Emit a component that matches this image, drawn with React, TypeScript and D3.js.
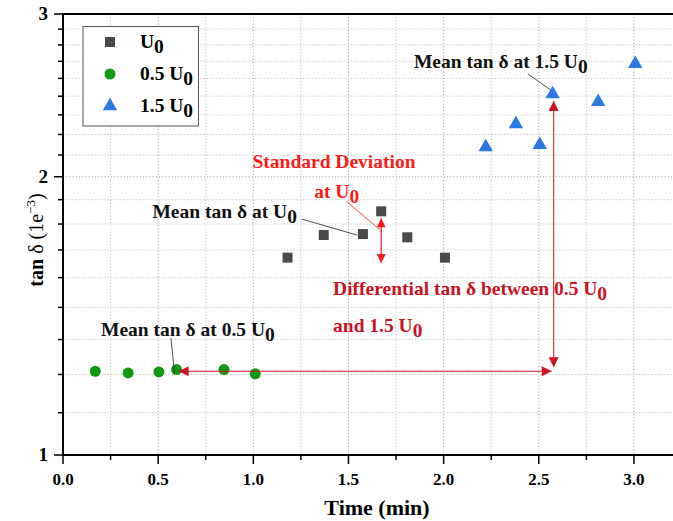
import React from "react";
import * as d3 from "d3";

// ---- data ----
const u0Time = [1.18, 1.37, 1.576, 1.672, 1.809, 2.007];
const u0Tan = [1.635, 1.73, 1.734, 1.835, 1.72, 1.635];
const halfTime = [0.17, 0.342, 0.504, 0.597, 0.846, 1.01];
const halfTan = [1.232, 1.227, 1.23, 1.237, 1.237, 1.224];
const oneHalfTime = [2.221, 2.38, 2.505, 2.573, 2.812, 3.007];
const oneHalfTan = [2.154, 2.281, 2.165, 2.458, 2.41, 2.649];
const legendLabels = ["U", "0.5 U", "1.5 U"];
const xTicks = [0, 0.5, 1, 1.5, 2, 2.5, 3];
const xTickLabels = ["0.0", "0.5", "1.0", "1.5", "2.0", "2.5", "3.0"];
const yTicks = [1, 2, 3];
const yTickLabels = ["1", "2", "3"];

const W = 673;
const H = 521;
const FONT = "'Liberation Serif', 'Times New Roman', serif";

const SQ = "#4a4a4a";
const GR = "#119a11";
const BL = "#2a78e2";
const RED_DARK = "#cc1122";
const RED = "#ff1a1a";

export default function App() {
  const x = d3.scaleLinear().domain([0, 3.2]).range([63, 672]);
  const y = d3.scaleLog().domain([1, 3]).range([455, 14]);

  const xMinor = d3.range(0, 3.21, 0.25);
  const yMinor: number[] = [];
  for (let b = 1; b < 3; b++) for (let k = 1; k < 9; k++) yMinor.push(b + k / 9);
  const yAllGrid = [...yMinor, 2];

  const tri = d3.symbol().type(d3.symbolTriangle).size(90)() as string;
  const sub = (main: string, s: string, dy = 5) => (
    <>
      <tspan>{main}</tspan>
      <tspan dy={dy}>{s}</tspan>
    </>
  );

  const mean15 = { t: oneHalfTime[3], v: oneHalfTan[3] };
  const mean05 = { t: halfTime[3], v: halfTan[3] };
  const meanU0 = { t: u0Time[2], v: u0Tan[2] };
  const sdTop = { t: u0Time[3], v: u0Tan[3] };

  return (
    <svg
      width={W}
      height={H}
      style={{ position: "absolute", left: 0, top: 0, background: "#fff" }}
      fontFamily={FONT}
    >
      <defs>
        <marker id="arrR" viewBox="0 0 10 10" refX="10" refY="5" markerWidth="11" markerHeight="9" markerUnits="userSpaceOnUse" orient="auto-start-reverse">
          <path d="M0,0 L10,5 L0,10 z" fill={RED} />
        </marker>
        <marker id="arrD" viewBox="0 0 10 10" refX="10" refY="5" markerWidth="13" markerHeight="10" markerUnits="userSpaceOnUse" orient="auto-start-reverse">
          <path d="M0,0 L10,5 L0,10 z" fill={RED_DARK} />
        </marker>
      </defs>

      {/* grid */}
      <g strokeDasharray="1.2,2" strokeWidth={1}>
        {xMinor.filter((d) => d > 0).map((d, i) => (
          <line key={"gx" + i} x1={x(d)} x2={x(d)} y1={y(3)} y2={y(1)} stroke={Math.abs(d * 2 - Math.round(d * 2)) < 1e-6 ? "#a8a8a8" : "#c4c4c4"} />
        ))}
        {yAllGrid.map((d, i) => (
          <line key={"gy" + i} x1={x(0)} x2={x(3.2)} y1={y(d)} y2={y(d)} stroke={d === 2 ? "#a8a8a8" : "#c4c4c4"} />
        ))}
      </g>

      {/* axes */}
      <g stroke="#000">
        <line x1={x(0)} x2={673} y1={y(3)} y2={y(3)} strokeWidth={2} />
        <line x1={x(0)} x2={x(0)} y1={y(3) - 1} y2={y(1) + 1} strokeWidth={2} />
        <line x1={x(0) - 1} x2={673} y1={y(1)} y2={y(1)} strokeWidth={2} />
        {xMinor.map((d, i) => {
          const major = Math.abs(d * 2 - Math.round(d * 2)) < 1e-6;
          return <line key={"tx" + i} x1={x(d)} x2={x(d)} y1={y(1)} y2={y(1) + (major ? 9 : 5)} strokeWidth={1.5} />;
        })}
        {[...yMinor, ...yTicks].map((d, i) => {
          const major = yTicks.includes(d);
          return <line key={"ty" + i} x1={x(0) - (major ? 9 : 5)} x2={x(0)} y1={y(d)} y2={y(d)} strokeWidth={1.5} />;
        })}
      </g>
      <g fontWeight="bold" fontSize={17} fill="#000">
        {xTicks.map((d, i) => (
          <text key={"lx" + i} x={x(d)} y={y(1) + 30} textAnchor="middle">{xTickLabels[i]}</text>
        ))}
      </g>
      <g fontWeight="bold" fontSize={19} fill="#000">
        {yTicks.map((d, i) => (
          <text key={"ly" + i} x={x(0) - 15} y={y(d) + 6} textAnchor="end">{yTickLabels[i]}</text>
        ))}
      </g>
      <text x={x(1.65)} y={515} textAnchor="middle" fontWeight="bold" fontSize={22}>Time (min)</text>
      <text transform={`translate(43,${240}) rotate(-90)`} textAnchor="middle" fontSize={20}>
        <tspan fontWeight="bold">tan</tspan>
        <tspan> δ (1e</tspan>
        <tspan dy={-8} fontSize={13}>−3</tspan>
        <tspan dy={8}>)</tspan>
      </text>

      {/* data */}
      {u0Time.map((t, i) => (
        <rect key={"s" + i} x={x(t) - 5} y={y(u0Tan[i]) - 5} width={10} height={10} fill={SQ} />
      ))}
      {halfTime.map((t, i) => (
        <circle key={"c" + i} cx={x(t)} cy={y(halfTan[i])} r={5.5} fill={GR} />
      ))}
      {oneHalfTime.map((t, i) => (
        <path key={"t" + i} d={tri} transform={`translate(${x(t)},${y(oneHalfTan[i])})`} fill={BL} />
      ))}

      {/* long arrows */}
      <line x1={x(mean05.t) + 2} y1={y(1.232)} x2={x(mean15.t) - 1} y2={y(1.232)} stroke={RED_DARK} strokeWidth={1} markerStart="url(#arrD)" markerEnd="url(#arrD)" />
      <line x1={x(mean15.t) + 1} y1={y(mean15.v) + 7} x2={x(mean15.t) + 1} y2={y(1.232) - 4} stroke={RED_DARK} strokeWidth={1} markerStart="url(#arrD)" markerEnd="url(#arrD)" />

      {/* SD arrow */}
      <line x1={x(sdTop.t)} y1={y(sdTop.v) + 7} x2={x(sdTop.t)} y2={y(1.613)} stroke={RED} strokeWidth={1.2} markerStart="url(#arrR)" markerEnd="url(#arrR)" />

      {/* leader lines */}
      <line x1={x(2.443)} y1={y(2.584)} x2={x(mean15.t) - 2} y2={y(mean15.v) - 4} stroke="#222" strokeWidth={0.8} />
      <line x1={x(1.254)} y1={y(1.8)} x2={x(meanU0.t) - 6} y2={y(meanU0.v) + 1} stroke="#222" strokeWidth={0.8} />
      <line x1={x(0.567)} y1={y(1.338)} x2={x(mean05.t) - 2} y2={y(mean05.v) + 4} stroke="#222" strokeWidth={0.8} />
      <line x1={x(1.49)} y1={y(1.88)} x2={x(sdTop.t) - 1} y2={y(1.752)} stroke={RED} strokeWidth={0.8} />

      {/* annotation texts */}
      <g fontWeight="bold" fontSize={19.5}>
        <text x={x(1.844)} y={y(2.622)} fill="#111">{sub("Mean tan δ at 1.5 U", "0")}</text>
        <text x={x(0.47)} y={y(1.803)} fill="#111">{sub("Mean tan δ at U", "0")}</text>
        <text x={x(0.2)} y={y(1.345)} fill="#111">{sub("Mean tan δ at 0.5 U", "0")}</text>
        <text x={x(1.424)} y={y(2.044)} fill={RED} textAnchor="middle">Standard Deviation</text>
        <text x={x(1.32)} y={y(1.897)} fill={RED}>{sub("at U", "0")}</text>
        <text x={x(1.419)} y={y(1.49)} fill={RED_DARK}>{sub("Differential tan δ between 0.5 U", "0")}</text>
        <text x={x(1.419)} y={y(1.358)} fill={RED_DARK}>{sub("and 1.5 U", "0")}</text>
      </g>

      {/* legend */}
      <rect x={83} y={26.5} width={115.5} height={99.5} fill="#fff" stroke="#555" strokeWidth={1} />
      {legendLabels.map((lab, i) => {
        const cy = 42 + i * 32;
        return (
          <g key={"lg" + i}>
            {i === 0 && <rect x={105} y={cy - 5} width={10} height={10} fill={SQ} />}
            {i === 1 && <circle cx={110} cy={cy} r={5.5} fill={GR} />}
            {i === 2 && <path d={tri} transform={`translate(110,${cy})`} fill={BL} />}
            <text x={140} y={cy + 6} fontWeight="bold" fontSize={19.5}>{sub(lab, "0", 5)}</text>
          </g>
        );
      })}
    </svg>
  );
}
